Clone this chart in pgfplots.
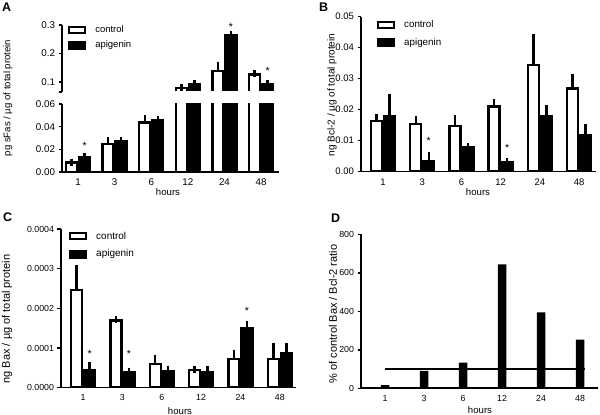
\documentclass[border=0pt]{standalone}
\usepackage{pgfplots}
\pgfplotsset{compat=1.18}
\usepackage{pgfplotstable}
\usepackage{fontspec}
\setmainfont{Liberation Sans}

\pgfplotstableread{
x c ce a ae
0 0.0085 0.0003 0.0132 0.0003
1 0.0245 0.0035 0.0275 0.0004
2 0.0435 0.0035 0.0460 0.0005
3 0.0800 0.0020 0.0930 0.0020
4 0.1380 0.0200 0.2630 0.0020
5 0.1270 0.0030 0.0920 0.0030
}\tabA

\pgfplotstableread{
x c ce a ae
0 0.0163 0.0012 0.0180 0.0060
1 0.0154 0.0013 0.0034 0.0018
2 0.0147 0.0025 0.0078 0.0002
3 0.0210 0.0012 0.0030 0.0002
4 0.0344 0.0088 0.0180 0.0023
5 0.0268 0.0036 0.0118 0.0025
}\tabB

\pgfplotstableread{
x c ce a ae
0 0.000246 0.000054 0.000043 0.000012
1 0.000169 0.000002 0.000039 0.000002
2 0.000059 0.000015 0.000042 0.000005
3 0.000045 0.000001 0.000040 0.000006
4 0.000072 0.000014 0.000150 0.000010
5 0.000072 0.000033 0.000088 0.000015
}\tabC

\pgfplotstableread{
x r
0 17
1 90
2 133
3 644
4 395
5 253
}\tabD

\tikzset{starnode/.style={anchor=base, inner sep=0pt, yshift=-5.5pt, font=\fontsize{10.5}{11}\selectfont}}

\pgfplotsset{
  panel/.style={scale only axis, clip mode=individual,
    axis x line*=bottom, axis y line*=left,
    axis line style={line width=1.6pt, black},
    ytick style={line width=1.4pt, black},
    major tick length=3.5pt, tick align=outside,
    xtick style={draw=none},
    xtick={0,...,5}, xticklabels={1,3,6,12,24,48},
    /pgf/number format/assume math mode=true,
    scaled y ticks=false,
    ybar, bar width=11pt,
    ymin=0,
    legend style={draw=none, fill=none, inner sep=0pt, anchor=north west,
      legend cell align=left, row sep=3pt,
      /tikz/every odd column/.append style={column sep=7pt}},
  },
  ctrl/.style={draw=black, fill=white, line width=2.4pt, bar shift=-6.5pt,
    legend image code/.code={\draw[black, fill=white, line width=2pt] (0pt,-3pt) rectangle (16pt,3pt);},
    error bars/.cd, y dir=plus, y explicit,
    error bar style={line width=2.4pt, black},
    error mark options={line width=2.4pt, mark size=3.5pt, black}},
  api/.style={draw=black, fill=black, line width=2.4pt, bar shift=6.5pt,
    legend image code/.code={\draw[black, fill=black, line width=2pt] (0pt,-3.5pt) rectangle (16pt,3.5pt);},
    error bars/.cd, y dir=plus, y explicit,
    error bar style={line width=2.4pt, black},
    error mark options={line width=2.4pt, mark size=3.5pt, black}},
}

\begin{document}
\begin{tikzpicture}
\useasboundingbox (0pt,0pt) rectangle (600pt,415pt);

% ---------- Panel A (lower segment) ----------
\begin{axis}[panel, at={(62pt,243pt)}, anchor=south west, width=217pt, height=68pt,
  xmin=-0.44, xmax=5.49, ymax=0.06,
  ytick={0,0.02,0.04,0.06},
  yticklabel style={/pgf/number format/.cd, fixed, fixed zerofill, precision=2},
  tick label style={font=\fontsize{9.8}{10}\selectfont}]
  \addplot[ctrl] table[x=x, y=c, y error=ce]{\tabA};
  \addplot[api] table[x=x, y=a, y error=ae]{\tabA};
  \node[starnode, xshift=6.5pt] at (axis cs:0,0.0247) {*};
\end{axis}

% ---------- Panel A (upper segment) ----------
\begin{axis}[panel, at={(62pt,323pt)}, anchor=south west, width=217pt, height=67pt,
  xmin=-0.44, xmax=5.49, ymin=0.0655, ymax=0.3,
  hide x axis, clip=false,
  ytick={0.1,0.2,0.3}, extra y ticks={0.0655}, extra y tick labels={},
  yticklabel style={/pgf/number format/.cd, fixed, precision=1},
  tick label style={font=\fontsize{9.8}{10}\selectfont},
  legend style={at={(0.028,1.025)}, font=\fontsize{9.5}{10}\selectfont}]
  \begin{scope}
  \clip (rel axis cs:0,0.025) rectangle (rel axis cs:1,1.2);
  \addplot[restrict x to domain=2.5:5.5, ctrl] table[x=x, y=c, y error=ce]{\tabA};
  \addlegendentry{control}
  \addplot[restrict x to domain=2.5:5.5, api] table[x=x, y=a, y error=ae]{\tabA};
  \addlegendentry{apigenin}
  \end{scope}
  \node[starnode, xshift=6.5pt] at (axis cs:4,0.300) {*};
  \node[starnode, xshift=6.5pt] at (axis cs:5,0.145) {*};
\end{axis}

% ---------- Panel B ----------
\begin{axis}[panel, at={(361pt,243.3pt)}, anchor=south west, width=235pt, height=155pt,
  xmin=-0.56, xmax=5.43, ymax=0.05,
  ytick={0,0.01,0.02,0.03,0.04,0.05},
  yticklabel style={/pgf/number format/.cd, fixed, fixed zerofill, precision=2},
  tick label style={font=\fontsize{9.5}{10}\selectfont},
  legend style={at={(0.068,0.99)}, font=\fontsize{9.8}{10}\selectfont, row sep=5pt}]
  \addplot[ctrl] table[x=x, y=c, y error=ce]{\tabB};
  \addlegendentry{control}
  \addplot[api] table[x=x, y=a, y error=ae]{\tabB};
  \addlegendentry{apigenin}
  \node[starnode, xshift=6.5pt] at (axis cs:1,0.01045) {*};
  \node[starnode, xshift=6.5pt] at (axis cs:3,0.0084) {*};
\end{axis}

% ---------- Panel C ----------
\begin{axis}[panel, at={(61pt,27.3pt)}, anchor=south west, width=235pt, height=158.7pt,
  xmin=-0.56, xmax=5.41, ymax=0.0004,
  ytick={0,0.0001,0.0002,0.0003,0.0004},
  yticklabel style={/pgf/number format/.cd, fixed, fixed zerofill, precision=4},
  tick label style={font=\fontsize{8.8}{10}\selectfont},
  legend style={at={(0.034,0.995)}, font=\fontsize{10}{10}\selectfont, row sep=5pt}]
  \addplot[ctrl] table[x=x, y=c, y error=ce]{\tabC};
  \addlegendentry{control}
  \addplot[api] table[x=x, y=a, y error=ae]{\tabC};
  \addlegendentry{apigenin}
  \node[starnode, xshift=6.5pt] at (axis cs:0,0.0000907) {*};
  \node[starnode, xshift=6.5pt] at (axis cs:1,0.0000907) {*};
  \node[starnode, xshift=6.5pt] at (axis cs:4,0.000198) {*};
\end{axis}

% ---------- Panel D ----------
\begin{axis}[panel, at={(361pt,26.7pt)}, anchor=south west, width=237pt, height=154pt,
  xmin=-0.62, xmax=5.46, ymax=800,
  ytick={0,200,400,600,800},
  tick label style={font=\fontsize{8.8}{10}\selectfont},
  bar width=8.5pt]
  \addplot[fill=black, draw=none, bar shift=0pt] table[x=x, y=r]{\tabD};
  \addplot[sharp plot, no marks, black, line width=1.1pt] coordinates {(0,100) (5.13,100)};
\end{axis}

% ---------- panel letters ----------
\node[anchor=north west, inner sep=0pt, font=\fontsize{12.5}{13}\selectfont\bfseries] at (2pt,412pt) {A};
\node[anchor=north west, inner sep=0pt, font=\fontsize{12.5}{13}\selectfont\bfseries] at (319pt,412pt) {B};
\node[anchor=north west, inner sep=0pt, font=\fontsize{12.5}{13}\selectfont\bfseries] at (3pt,202pt) {C};
\node[anchor=north west, inner sep=0pt, font=\fontsize{12.5}{13}\selectfont\bfseries] at (331pt,201pt) {D};

% ---------- axis titles ----------
\node[rotate=90, font=\fontsize{9.6}{10}\selectfont] at (8pt,317pt) {pg sFas / µg of total protein};
\node[rotate=90, font=\fontsize{10}{10}\selectfont] at (332pt,320pt) {ng Bcl-2 / µg of total protein};
\node[rotate=90, font=\fontsize{11}{11}\selectfont] at (7pt,96pt) {ng Bax / µg of total protein};
\node[rotate=90, font=\fontsize{11}{11}\selectfont] at (333pt,101pt) {\% of control Bax / Bcl-2 ratio};
\node[font=\fontsize{9.6}{10}\selectfont] at (168pt,223pt) {hours};
\node[font=\fontsize{9.6}{10}\selectfont] at (478pt,223pt) {hours};
\node[font=\fontsize{9.6}{10}\selectfont] at (180pt,4pt) {hours};
\node[font=\fontsize{9.6}{10}\selectfont] at (480pt,5pt) {hours};
\end{tikzpicture}
\end{document}
